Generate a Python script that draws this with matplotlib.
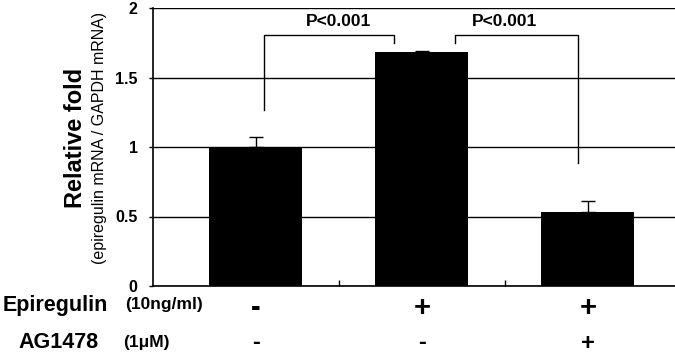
import matplotlib
matplotlib.use("Agg")
import matplotlib.pyplot as plt
import matplotlib.transforms as mtransforms

plt.rcParams['font.family'] = ['Liberation Sans', 'DejaVu Sans']

groups = ["Control", "Epiregulin", "Epiregulin + AG1478"]
values = [1.00, 1.68, 0.53]
errors = [0.07, 0.01, 0.08]
epiregulin_signs = ["-", "+", "+"]
ag1478_signs = ["-", "-", "+"]
yticks = [0, 0.5, 1, 1.5, 2]
ytick_labels = ["0", "0.5", "1", "1.5", "2"]
p_labels = ["P<0.001", "P<0.001"]

fig = plt.figure(figsize=(6.75, 3.55), dpi=100)
ax = fig.add_axes([153/675, 69/355, 522/675, 278/355])

x = list(range(len(groups)))
ax.bar(x, values, width=0.56, color="black", zorder=3)
ax.errorbar(x, values, yerr=[[0]*len(errors), errors], fmt="none",
            ecolor="black", elinewidth=1, capsize=5, capthick=1, zorder=2)

ax.set_xlim(-0.62, 2.525)
ax.set_ylim(0, 2)
ax.set_yticks(yticks)
ax.set_yticklabels(ytick_labels, fontsize=11.5, fontweight="bold")
ax.yaxis.grid(True, color="black", linewidth=1)
ax.set_axisbelow(True)
ax.tick_params(axis="y", length=3, width=1, pad=8)
ax.set_xticks([0.5, 1.5])
ax.set_xticklabels([])
ax.tick_params(axis="x", direction="in", length=4, width=1)
for s in ["top", "right"]:
    ax.spines[s].set_visible(False)
for s in ["left", "bottom"]:
    ax.spines[s].set_linewidth(1.2)

# significance brackets
def bracket(x0, x1, y0, y1, ytop):
    ax.plot([x0, x0, x1, x1], [y0, ytop, ytop, y1], color="black", lw=1, zorder=4)

bracket(0.05, 0.83, 1.266, 1.748, 1.806)
bracket(1.20, 1.94, 1.748, 0.885, 1.806)
ax.text(0.5, 1.905, p_labels[0], ha="center", va="center", fontsize=12.5, fontweight="bold")
ax.text(1.5, 1.905, p_labels[1], ha="center", va="center", fontsize=12.5, fontweight="bold")

# y label
fig.text(76/675, 1 - 138/355, "Relative fold", rotation=90, ha="center", va="center",
         fontsize=17, fontweight="bold")
fig.text(100/675, 1 - 138/355, "(epiregulin mRNA / GAPDH mRNA)", rotation=90,
         ha="center", va="center", fontsize=11.5)

# bottom condition rows
trans = mtransforms.blended_transform_factory(ax.transData, fig.transFigure)
row1_y = 1 - 305/355
row2_y = 1 - 343/355
for xi, s in zip(x, epiregulin_signs):
    ax.text(xi, row1_y, s, transform=trans, ha="center", va="center_baseline",
            fontsize=21, fontweight="bold", clip_on=False)
for xi, s in zip(x, ag1478_signs):
    ax.text(xi, row2_y, s, transform=trans, ha="center", va="center",
            fontsize=17, fontweight="bold", clip_on=False)

fig.text(3/675, row1_y, "Epiregulin", ha="left", va="center", fontsize=15.5, fontweight="bold")
fig.text(125/675, row1_y, "(10ng/ml)", ha="left", va="center", fontsize=12.5, fontweight="bold")
fig.text(18/675, row2_y, "AG1478", ha="left", va="center", fontsize=15.5, fontweight="bold")
fig.text(123/675, row2_y, "(1\u03bcM)", ha="left", va="center", fontsize=12.5, fontweight="bold")

fig.savefig("out.png", dpi=100)
